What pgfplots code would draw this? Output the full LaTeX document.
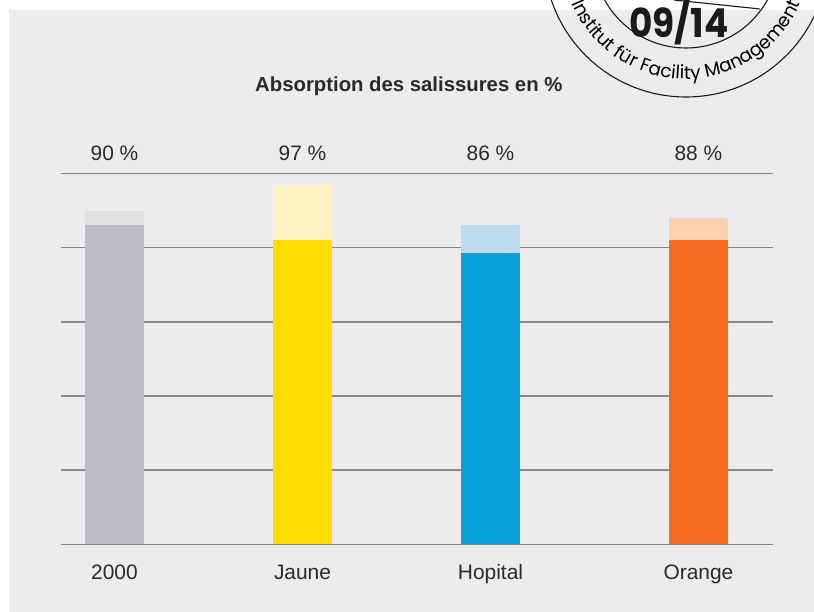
\documentclass[border=0pt]{standalone}
\usepackage{pgfplots}
\pgfplotsset{compat=1.18}
\usepackage{fontspec}
\setmainfont{Liberation Sans}
\newfontfamily\stampfont{Poppins}
\usetikzlibrary{decorations.text}
\definecolor{bg}{HTML}{ECECEE}
\definecolor{gridc}{HTML}{888888}
\definecolor{txt}{HTML}{2A2A2A}
\definecolor{dgray}{HTML}{BCBDC0}
\definecolor{lgray}{HTML}{E0E1E3}
\definecolor{dyel}{HTML}{FFDD00}
\definecolor{lyel}{HTML}{FEF2C0}
\definecolor{dblue}{HTML}{079FDB}
\definecolor{lblue}{HTML}{BDDCF0}
\definecolor{dorg}{HTML}{F26B21}
\definecolor{lorg}{HTML}{FCCFAE}
\definecolor{stampc}{HTML}{1A1A1A}
\begin{document}
\begin{tikzpicture}[x=1bp,y=1bp]
\useasboundingbox (0,0) rectangle (814,612);
\fill[white] (0,0) rectangle (814,612);
\fill[bg] (9,0) rectangle (814,602);
\begin{axis}[
  at={(61bp,67.5bp)}, anchor=south west,
  scale only axis, width=712bp, height=371bp,
  xmin=-0.2846, xmax=3.5027, ymin=0, ymax=100,
  axis line style={draw=none},
  ytick={0,20,40,60,80,100}, yticklabels={},
  ymajorgrids, grid style={line width=1.6bp, color=gridc},
  major tick length=0pt,
  xtick={0,1,2,3.106}, xticklabels={2000,Jaune,Hopital,Orange},
  xticklabel style={anchor=base, yshift=-34.8bp, font=\fontsize{21}{21}\selectfont, text=txt},
  ybar, bar width=59bp, bar shift=0pt,
  clip=false,
]
% total (light) then lower part (dark) drawn over it
\addplot[fill=lgray, draw=none] coordinates {(0,90)};
\addplot[fill=dgray, draw=none] coordinates {(0,86)};
\addplot[fill=lyel, draw=none] coordinates {(1,97)};
\addplot[fill=dyel, draw=none] coordinates {(1,82)};
\addplot[fill=lblue, draw=none] coordinates {(2,86)};
\addplot[fill=dblue, draw=none] coordinates {(2,78.5)};
\addplot[fill=lorg, draw=none] coordinates {(3.106,88)};
\addplot[fill=dorg, draw=none] coordinates {(3.106,82)};
\node[anchor=base, text=txt, font=\fontsize{21}{21}\selectfont] at (axis cs:0,103.5) {90 \%};
\node[anchor=base, text=txt, font=\fontsize{21}{21}\selectfont] at (axis cs:1,103.5) {97 \%};
\node[anchor=base, text=txt, font=\fontsize{21}{21}\selectfont] at (axis cs:2,103.5) {86 \%};
\node[anchor=base, text=txt, font=\fontsize{21}{21}\selectfont] at (axis cs:3.106,103.5) {88 \%};
\end{axis}
\node[anchor=base west, text=txt, font=\bfseries\fontsize{20.4}{20.4}\selectfont, inner sep=0pt] at (255,520.3) {Absorption des salissures en \%};
\begin{scope}
\clip (0,0) rectangle (814,612);
\draw[stampc, line width=1.1bp] (686,657) circle (142);
\draw[stampc, line width=1.1bp] (686,657) circle (93);
\draw[stampc, line width=1.1bp] (674,612) -- (760,603);
\node[anchor=base, inner sep=0pt, text=stampc, xscale=0.9, font=\stampfont\bfseries\fontsize{40}{40}\selectfont] at (679,574) {09/14};
\path[decorate, decoration={text along path, text align=center,
  text={|\stampfont\fontsize{18.5}{18.5}\selectfont|Institut für Facility Management}}]
  (686,657) ++(195:124) arc (195:345:124);
\end{scope}
\end{tikzpicture}
\end{document}
